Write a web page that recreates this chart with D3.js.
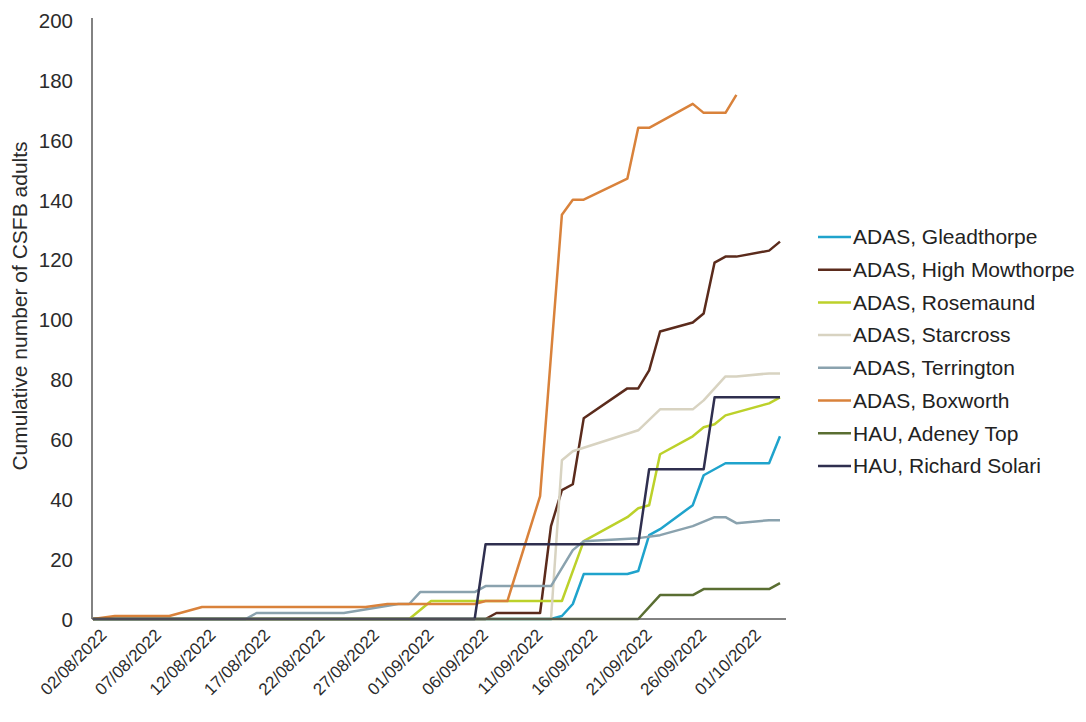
<!DOCTYPE html>
<html>
<head>
<meta charset="utf-8">
<script src="https://cdn.jsdelivr.net/npm/d3@7"></script>
<style>
  body { margin: 0; background: #fff; }
  svg { display: block; font-family: "Liberation Sans", Arial, sans-serif; }
</style>
</head>
<body>
<svg id="chart" width="1086" height="722"></svg>
<script>
// ---------- DATA ----------
const seriesNames = [
  "ADAS, Gleadthorpe", "ADAS, High Mowthorpe", "ADAS, Rosemaund", "ADAS, Starcross",
  "ADAS, Terrington", "ADAS, Boxworth", "HAU, Adeney Top", "HAU, Richard Solari"
];
const seriesColors = ["#1fa3cc", "#5b2b1c", "#bcd12a", "#d8d3c1", "#8aa2ae", "#d9823b", "#5a6e32", "#2f2f4f"];

const gleadthorpe = [["02/08/2022",0],["13/09/2022",0],["14/09/2022",1],["15/09/2022",5],["16/09/2022",15],["20/09/2022",15],["21/09/2022",16],["22/09/2022",28],["23/09/2022",30],["26/09/2022",38],["27/09/2022",48],["29/09/2022",52],["03/10/2022",52],["04/10/2022",61]];
const highMowthorpe = [["02/08/2022",0],["07/09/2022",0],["08/09/2022",2],["12/09/2022",2],["13/09/2022",31],["14/09/2022",43],["15/09/2022",45],["16/09/2022",67],["20/09/2022",77],["21/09/2022",77],["22/09/2022",83],["23/09/2022",96],["26/09/2022",99],["27/09/2022",102],["28/09/2022",119],["29/09/2022",121],["30/09/2022",121],["03/10/2022",123],["04/10/2022",126]];
const rosemaund = [["02/08/2022",0],["31/08/2022",0],["02/09/2022",6],["14/09/2022",6],["16/09/2022",26],["20/09/2022",34],["21/09/2022",37],["22/09/2022",38],["23/09/2022",55],["26/09/2022",61],["27/09/2022",64],["28/09/2022",65],["29/09/2022",68],["03/10/2022",72],["04/10/2022",74]];
const starcross = [["02/08/2022",0],["13/09/2022",0],["14/09/2022",53],["15/09/2022",56],["21/09/2022",63],["23/09/2022",70],["26/09/2022",70],["27/09/2022",73],["29/09/2022",81],["30/09/2022",81],["03/10/2022",82],["04/10/2022",82]];
const terrington = [["02/08/2022",0],["16/08/2022",0],["17/08/2022",2],["25/08/2022",2],["30/08/2022",5],["31/08/2022",5],["01/09/2022",9],["06/09/2022",9],["07/09/2022",11],["13/09/2022",11],["15/09/2022",23],["16/09/2022",26],["21/09/2022",27],["23/09/2022",28],["26/09/2022",31],["28/09/2022",34],["29/09/2022",34],["30/09/2022",32],["03/10/2022",33],["04/10/2022",33]];
const boxworth = [["02/08/2022",0],["04/08/2022",1],["09/08/2022",1],["12/08/2022",4],["27/08/2022",4],["29/08/2022",5],["06/09/2022",5],["07/09/2022",6],["09/09/2022",6],["12/09/2022",41],["14/09/2022",135],["15/09/2022",140],["16/09/2022",140],["20/09/2022",147],["21/09/2022",164],["22/09/2022",164],["26/09/2022",172],["27/09/2022",169],["29/09/2022",169],["30/09/2022",175]];
const adeneyTop = [["02/08/2022",0],["21/09/2022",0],["23/09/2022",8],["26/09/2022",8],["27/09/2022",10],["03/10/2022",10],["04/10/2022",12]];
const richardSolari = [["02/08/2022",0],["06/09/2022",0],["07/09/2022",25],["21/09/2022",25],["22/09/2022",50],["27/09/2022",50],["28/09/2022",74],["04/10/2022",74]];

const xTickLabels = ["02/08/2022","07/08/2022","12/08/2022","17/08/2022","22/08/2022","27/08/2022","01/09/2022","06/09/2022","11/09/2022","16/09/2022","21/09/2022","26/09/2022","01/10/2022"];
const yTicks = [0,20,40,60,80,100,120,140,160,180,200];
const xDomainLabels = ["02/08/2022","04/10/2022"];

// ---------- CHART ----------
const parse = d3.utcParse("%d/%m/%Y");
const allSeries = [gleadthorpe, highMowthorpe, rosemaund, starcross, terrington, boxworth, adeneyTop, richardSolari];

const svg = d3.select("#chart");
const x = d3.scaleUtc().domain(xDomainLabels.map(parse)).range([93, 780]);
const y = d3.scaleLinear().domain([0, 200]).range([619, 20]);

// y tick labels
const yAxis = d3.axisLeft(y).tickValues(yTicks).tickSize(0).tickPadding(0);
const gy = svg.append("g").attr("transform", "translate(73,0)").call(yAxis);
gy.select(".domain").remove();
gy.selectAll("text").attr("font-size", 20.5).attr("fill", "#2b2b2b").attr("font-family", "Liberation Sans, Arial, sans-serif").attr("dy", "0.36em");

// x tick labels
const xAxis = d3.axisBottom(x).tickValues(xTickLabels.map(parse)).tickSize(0).tickFormat(d3.utcFormat("%d/%m/%Y"));
const gx = svg.append("g").attr("transform", "translate(0,619)").call(xAxis);
gx.select(".domain").remove();
gx.selectAll("text")
  .attr("font-size", 17).attr("fill", "#2b2b2b").attr("font-family", "Liberation Sans, Arial, sans-serif")
  .attr("text-anchor", "end").attr("dy", 0)
  .attr("transform", "translate(12,15) rotate(-45)");

// y axis line
svg.append("line").attr("x1", 92).attr("x2", 92).attr("y1", y(200) - 2).attr("y2", y(0)).attr("stroke", "#595959").attr("stroke-width", 1.5);

// series
const line = d3.line().x(d => x(parse(d[0]))).y(d => y(d[1]));
allSeries.forEach((s, i) => {
  svg.append("path").datum(s).attr("d", line)
    .attr("fill", "none").attr("stroke", seriesColors[i]).attr("stroke-width", 2.5)
    .attr("stroke-linejoin", "round");
});

// x axis line
svg.append("line").attr("x1", 92).attr("x2", x(parse(xDomainLabels[1])) + 6).attr("y1", y(0)).attr("y2", y(0)).attr("stroke", "#595959").attr("stroke-width", 1.5);

// y title
svg.append("text").attr("transform", "translate(27,306) rotate(-90)")
  .attr("text-anchor", "middle").attr("font-size", 21).attr("fill", "#2b2b2b")
  .text("Cumulative number of CSFB adults");

// legend
const lg = svg.append("g").attr("transform", "translate(818,237)");
seriesNames.forEach((n, i) => {
  const g = lg.append("g").attr("transform", `translate(0,${i * 32.7})`);
  g.append("line").attr("x1", 0).attr("x2", 33).attr("y1", 0).attr("y2", 0).attr("stroke", seriesColors[i]).attr("stroke-width", 2.5);
  g.append("text").attr("x", 35).attr("y", 0).attr("dy", "0.35em").attr("font-size", 21).attr("fill", "#222").text(n);
});
</script>
</body>
</html>
